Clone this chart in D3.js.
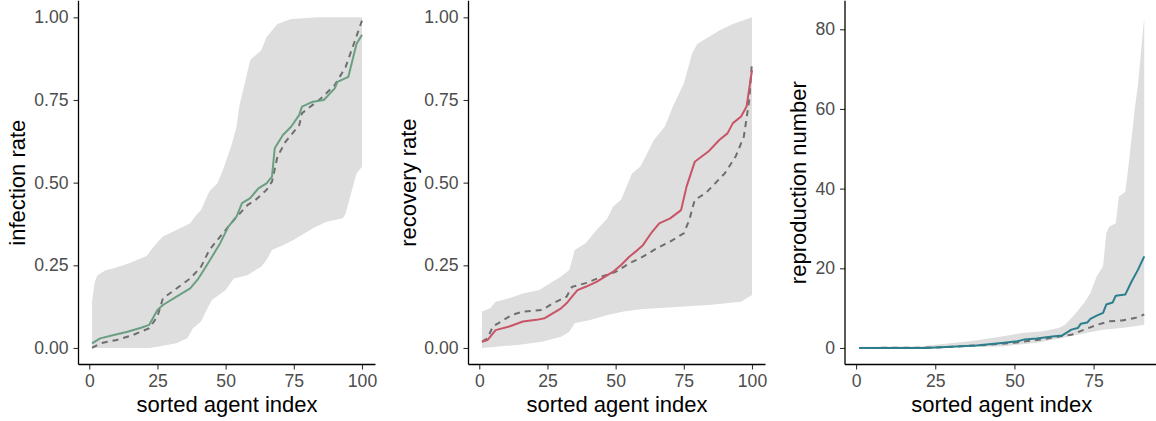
<!DOCTYPE html>
<html>
<head>
<meta charset="utf-8">
<script src="https://cdn.jsdelivr.net/npm/d3@7"></script>
<style>
  body { margin: 0; background: #fff; }
  text { font-family: "Liberation Sans", Arial, sans-serif; }
</style>
</head>
<body>
<svg id="chart" width="1156" height="421"></svg>
<script>
// [sorted agent index, value]

// infection rate
var infUpper = [[1,0.14],[2,0.2],[3,0.22],[6,0.235],[9,0.241],[13,0.252],[16,0.261],[21,0.278],[23,0.30],[25,0.32],[27,0.337],[32,0.357],[37,0.377],[39,0.40],[41,0.417],[44,0.473],[47,0.498],[49,0.538],[52,0.609],[54,0.669],[55,0.73],[57,0.80],[59,0.871],[63,0.90],[65,0.94],[67,0.96],[69,0.98],[74,0.995],[84,1.0],[100,1.0]];
var infLower = [[1,0],[22,0],[25,0.004],[32,0.014],[36,0.03],[38,0.06],[41,0.08],[43,0.115],[45,0.145],[50,0.175],[53,0.21],[58,0.22],[63,0.246],[65,0.266],[67,0.296],[71,0.311],[75,0.327],[79,0.347],[82,0.362],[87,0.382],[93,0.392],[94,0.407],[96,0.468],[98,0.528],[100,0.548]];
var infMean = [[1,0.014],[4,0.029],[9,0.039],[14,0.049],[19,0.061],[22,0.07],[25,0.115],[27,0.13],[32,0.155],[37,0.18],[40,0.21],[42,0.236],[45,0.276],[48,0.317],[51,0.367],[54,0.397],[56,0.438],[59,0.453],[62,0.483],[65,0.498],[67,0.518],[68,0.604],[71,0.644],[74,0.669],[77,0.705],[78,0.73],[82,0.745],[86,0.75],[90,0.785],[91,0.805],[95,0.82],[98,0.92],[100,0.947]];
var infTrue = [[1,0],[4,0.014],[10,0.024],[16,0.039],[22,0.06],[25,0.095],[27,0.15],[32,0.18],[37,0.21],[41,0.246],[44,0.296],[48,0.337],[53,0.387],[58,0.432],[61,0.448],[65,0.478],[67,0.503],[69,0.579],[72,0.624],[77,0.674],[78,0.71],[85,0.755],[90,0.795],[94,0.85],[97,0.92],[100,0.99]];

// recovery rate
var recUpper = [[1,0.11],[4,0.12],[6,0.14],[11,0.15],[16,0.165],[22,0.175],[26,0.196],[30,0.216],[33,0.236],[35,0.296],[39,0.317],[43,0.357],[47,0.392],[49,0.427],[52,0.448],[54,0.488],[56,0.528],[59,0.548],[61,0.579],[64,0.629],[68,0.669],[71,0.73],[75,0.80],[78,0.89],[80,0.92],[84,0.94],[88,0.96],[93,0.98],[100,1.0]];
var recLower = [[1,0],[14,0.009],[23,0.019],[30,0.034],[33,0.049],[35,0.075],[41,0.085],[47,0.10],[53,0.11],[59,0.117],[71,0.123],[84,0.13],[96,0.14],[100,0.16]];
var recMean = [[1,0.019],[3,0.024],[6,0.054],[11,0.065],[16,0.08],[21,0.085],[24,0.09],[26,0.10],[30,0.12],[32,0.135],[34,0.155],[36,0.175],[39,0.185],[43,0.20],[47,0.22],[49,0.23],[52,0.251],[55,0.276],[58,0.296],[60,0.311],[63,0.347],[66,0.377],[70,0.392],[74,0.417],[76,0.488],[78,0.538],[79,0.563],[84,0.594],[88,0.629],[91,0.649],[93,0.68],[96,0.70],[98,0.73],[100,0.84]];
var recTrue = [[1,0.019],[3,0.029],[5,0.065],[9,0.085],[12,0.10],[16,0.11],[23,0.115],[27,0.135],[32,0.155],[34,0.185],[39,0.196],[45,0.216],[50,0.23],[55,0.256],[60,0.276],[65,0.301],[70,0.322],[75,0.347],[77,0.387],[79,0.448],[83,0.468],[90,0.528],[94,0.579],[97,0.639],[99,0.75],[100,0.866]];

// reproduction number
var repUpper = [[1,0.3],[20,0.4],[25,0.8],[36,1.7],[46,2.9],[53,3.8],[59,4.2],[64,5.0],[66,5.8],[68,7.5],[69,8.4],[72,11.3],[74,13.8],[76,18],[78,20.5],[79,28.8],[80,30.5],[82,31.3],[83,38],[85,39.2],[86,45.5],[88,60],[89,66],[91,83]];
var repLower = [[1,0],[46,0.4],[57,1.3],[65,2.5],[73,3.8],[78,4.6],[84,5.0],[89,5.6],[91,5.8]];
var repMean = [[1,0],[22,0],[38,0.6],[46,1.25],[51,1.7],[53,2.1],[57,2.4],[62,2.9],[65,3.1],[66,3.6],[68,4.6],[70,5.0],[71,6.1],[73,6.4],[74,7.3],[76,8.1],[78,8.8],[79,10.9],[81,11.4],[82,13.1],[85,13.4],[87,16.7],[89,19.6],[91,23]];
var repTrue = [[1,0],[25,0.1],[40,0.7],[50,1.3],[60,2.3],[65,3.0],[68,3.3],[72,4.6],[76,5.8],[80,6.7],[84,6.9],[88,7.5],[91,8.4]];

var xTicks100 = [0, 25, 50, 75, 100];
var xTicks90 = [0, 25, 50, 75];
var rateTicks = [0, 0.25, 0.5, 0.75, 1];
var repTicks = [0, 20, 40, 60, 80];

var panels = [
    { left: 78.5, right: 375.5, titleX: 25, ylab: "infection rate", color: "#6a9f82",
      upper: infUpper, lower: infLower, mean: infMean, truth: infTrue, xt: xTicks100, yt: rateTicks, fmt: d3.format(".2f") },
    { left: 468.5, right: 765.5, titleX: 416, ylab: "recovery rate", color: "#c95466",
      upper: recUpper, lower: recLower, mean: recMean, truth: recTrue, xt: xTicks100, yt: rateTicks, fmt: d3.format(".2f") },
    { left: 845, right: 1158.5, titleX: 806, ylab: "reproduction number", color: "#2b7f8c",
      upper: repUpper, lower: repLower, mean: repMean, truth: repTrue, xt: xTicks90, yt: repTicks, fmt: d3.format("d") }
];

var plotTop = 0.8, plotBottom = 364.5;
var svg = d3.select("#chart");

// ggplot style 5% expansion
function expand(ext) {
    var r = ext[1] - ext[0];
    return [ext[0] - 0.05 * r, ext[1] + 0.05 * r];
}

panels.forEach(function (p) {
    var all = p.upper.concat(p.lower, p.mean, p.truth);
    var x = d3.scaleLinear().domain(expand(d3.extent(all, d => d[0]))).range([p.left, p.right]);
    var y = d3.scaleLinear().domain(expand(d3.extent(all, d => d[1]))).range([plotBottom, plotTop]);
    var g = svg.append("g");

    var line = d3.line().x(d => x(d[0])).y(d => y(d[1]));

    // band
    g.append("path")
        .attr("d", line(p.upper.concat(p.lower.slice().reverse())) + "Z")
        .attr("fill", "#dedede");

    g.append("path")
        .attr("d", line(p.truth))
        .attr("fill", "none")
        .attr("stroke", "#6e6e6e")
        .attr("stroke-width", 2)
        .attr("stroke-dasharray", "6,5");

    g.append("path")
        .attr("d", line(p.mean))
        .attr("fill", "none")
        .attr("stroke", p.color)
        .attr("stroke-width", 2)
        .attr("stroke-linejoin", "round");

    // axes
    var ax = g.append("g").attr("transform", "translate(0," + plotBottom + ")")
        .call(d3.axisBottom(x).tickValues(p.xt).tickSize(5).tickPadding(5));
    var ay = g.append("g").attr("transform", "translate(" + p.left + ",0)")
        .call(d3.axisLeft(y).tickValues(p.yt).tickFormat(p.fmt).tickSize(5).tickPadding(5));
    [ax, ay].forEach(function (a) {
        a.attr("font-size", null).attr("font-family", null);
        a.select(".domain").remove();
        a.selectAll(".tick line").attr("stroke", "#333").attr("stroke-width", 1.1);
        a.selectAll(".tick text").attr("fill", "#4d4d4d").style("font-size", "17.6px");
    });
    g.append("line").attr("x1", p.left).attr("x2", p.left).attr("y1", plotTop).attr("y2", plotBottom)
        .attr("stroke", "#000").attr("stroke-width", 1.3);
    g.append("line").attr("x1", p.left).attr("x2", p.right).attr("y1", plotBottom).attr("y2", plotBottom)
        .attr("stroke", "#000").attr("stroke-width", 1.3);

    g.append("text")
        .attr("x", (p.left + p.right) / 2)
        .attr("y", 411.5)
        .attr("text-anchor", "middle")
        .style("font-size", "22px")
        .text("sorted agent index");
    g.append("text")
        .attr("transform", "translate(" + p.titleX + "," + (plotTop + plotBottom) / 2 + ") rotate(-90)")
        .attr("text-anchor", "middle")
        .style("font-size", "22px")
        .text(p.ylab);
});
</script>
</body>
</html>
